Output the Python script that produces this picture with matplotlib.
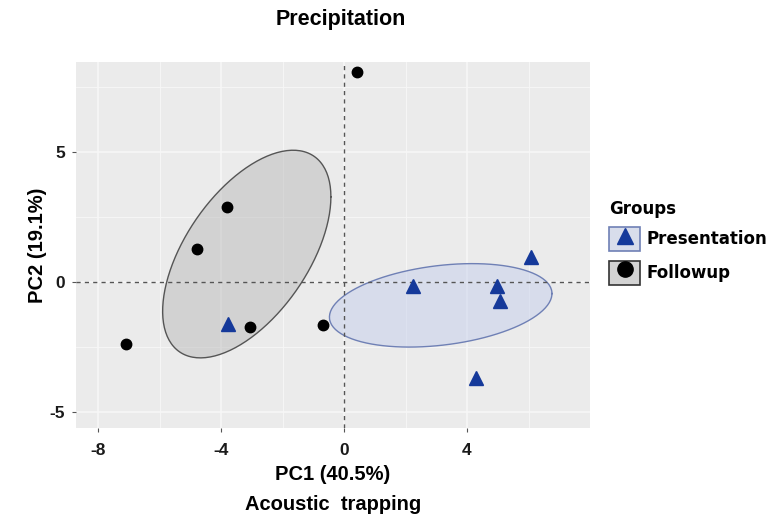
import numpy as np
import matplotlib
matplotlib.use("Agg")
import matplotlib.pyplot as plt
from matplotlib.patches import Patch
from matplotlib.lines import Line2D

plt.rcParams["axes.unicode_minus"] = False

# ---- data ----
pres_x = [-3.77, 2.24, 4.97, 5.06, 6.07, 4.29]
pres_y = [-1.63, -0.17, -0.17, -0.75, 0.95, -3.70]
foll_x = [0.42, -3.80, -4.80, -7.08, -3.05, -0.68]
foll_y = [8.07, 2.87, 1.25, -2.40, -1.75, -1.67]

group_names = ["Presentation", "Followup"]
x_ticks = [-8, -4, 0, 4]
y_ticks = [-5, 0, 5]
x_minor = [-6, -2, 2, 6]
y_minor = [-2.5, 2.5, 7.5]
xlim = (-8.72, 8.0)
ylim = (-5.63, 8.45)

title = "Precipitation"
xlab = "PC1 (40.5%)"
ylab = "PC2 (19.1%)"
sub = "Acoustic  trapping"

# ---- style ----
panel_bg = "#EBEBEB"
tri_col = "#15399A"
pres_fill, pres_edge = "#C5CFEB", "#6F80B5"
foll_fill, foll_edge = "#BBBBBB", "#555555"
font = "Liberation Sans"

fig = plt.figure(figsize=(7.74, 5.24), dpi=100)
ax = fig.add_axes([76/774, 1-428/524, (590-76)/774, (428-62)/524])
ax.set_facecolor(panel_bg)
for s in ax.spines.values():
    s.set_visible(False)

ax.set_xlim(*xlim)
ax.set_ylim(*ylim)
ax.set_xticks(x_ticks)
ax.set_yticks(y_ticks)
ax.set_xticks(x_minor, minor=True)
ax.set_yticks(y_minor, minor=True)
ax.grid(which="major", color="#F7F7F7", lw=1.1, zorder=0)
ax.grid(which="minor", color="#F7F7F7", lw=0.6, zorder=0)
ax.set_axisbelow(True)
ax.tick_params(which="minor", length=0)
ax.tick_params(axis="x", which="major", length=3, color="#555555", width=0.8,
               labelsize=12.5, pad=8)
ax.tick_params(axis="y", which="major", length=3, color="#555555", width=0.8,
               labelsize=12.5, pad=5)
for lab in ax.get_xticklabels() + ax.get_yticklabels():
    lab.set_fontfamily(font)
    lab.set_fontweight("bold")
    lab.set_color("#1A1A1A")


def ellipse(xs, ys, n=200):
    pts = np.vstack([xs, ys])
    m = pts.mean(axis=1)
    cov = np.cov(pts)
    L = np.linalg.cholesky(cov)
    t = np.linspace(0, 2*np.pi, n)
    circ = np.vstack([np.cos(t), np.sin(t)])
    e = m[:, None] + L @ circ
    return e[0], e[1]

ex, ey = ellipse(foll_x, foll_y)
ax.fill(ex, ey, facecolor=foll_fill, alpha=0.5, zorder=1)
ax.plot(ex, ey, color=foll_edge, lw=1.0, zorder=1.1)
ex, ey = ellipse(pres_x, pres_y)
ax.fill(ex, ey, facecolor=pres_fill, alpha=0.5, zorder=1)
ax.plot(ex, ey, color=pres_edge, lw=1.0, zorder=1.1)

ax.axhline(0, color="#555555", lw=1.0, ls=(0, (3, 3)), zorder=2)
ax.axvline(0, color="#555555", lw=1.0, ls=(0, (3, 3)), zorder=2)

ax.plot(pres_x, pres_y, ls="none", marker="^", ms=9.5, color=tri_col,
        mec=tri_col, zorder=3)
ax.plot(foll_x, foll_y, ls="none", marker="o", ms=7.5, color="black",
        zorder=3)

ax.set_xlabel(xlab, fontfamily=font, fontweight="bold", fontsize=14.5,
              labelpad=5)
ax.set_ylabel(ylab, fontfamily=font, fontweight="bold", fontsize=14.5,
              labelpad=2)
fig.text(341/774, 1-19/524, title, ha="center", va="center",
         fontfamily=font, fontweight="bold", fontsize=15.5)
fig.text(333/774, 1-505/524, sub, ha="center", va="center",
         fontfamily=font, fontweight="bold", fontsize=14.5)

h1 = (Patch(facecolor="#D8DDEB", edgecolor=pres_edge, lw=1.2),
      Line2D([], [], ls="none", marker="^", ms=12, color=tri_col))
h2 = (Patch(facecolor="#D3D3D3", edgecolor="#333333", lw=1.2),
      Line2D([], [], ls="none", marker="o", ms=11, color="black"))
leg = fig.legend(handles=[h1, h2], labels=group_names, title="Groups",
                 loc="upper left", bbox_to_anchor=(597/774, 1-188/524),
                 frameon=False, handlelength=1.9, handleheight=1.9,
                 handletextpad=0.35, labelspacing=0.55, borderpad=0.2,
                 prop={"family": "DejaVu Sans", "weight": "bold", "size": 12})
leg.get_title().set_fontfamily("DejaVu Sans")
leg.get_title().set_fontweight("bold")
leg.get_title().set_fontsize(12)
leg._legend_box.align = "left"

fig.savefig("out.png", dpi=100)
